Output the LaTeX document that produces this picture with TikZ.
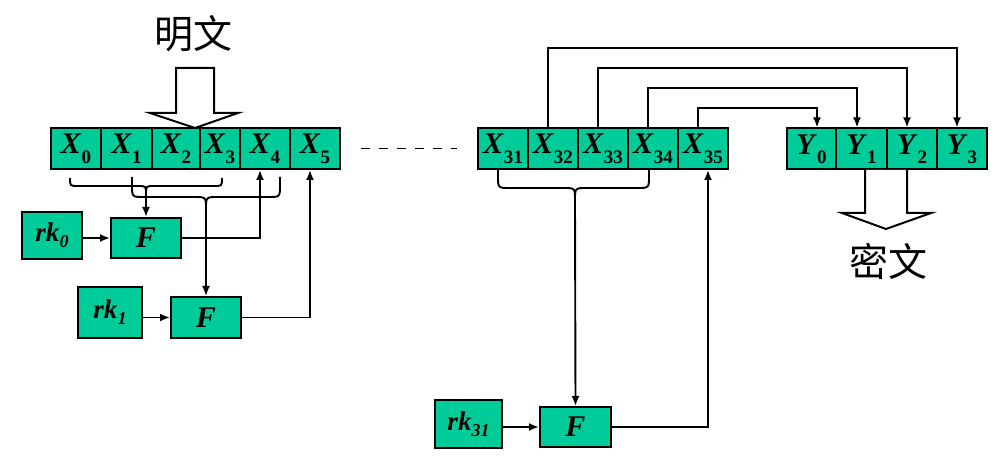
\documentclass[tikz,border=0pt]{standalone}
\usepackage{fontspec}
\setmainfont{Liberation Serif}
\newfontfamily\cjk{Noto Sans CJK SC}
\usetikzlibrary{arrows.meta,calc}
\definecolor{tealg}{RGB}{0,204,153}
\newcommand{\Xsub}[2]{\textbf{\textit{#1}}\raisebox{-9.5pt}{\smash{\fontsize{19}{19}\selectfont\textbf{#2}}}}
\newcommand{\rksub}[1]{\textbf{\textit{rk}}\raisebox{-6pt}{\smash{\fontsize{18}{18}\selectfont\textbf{\textit{#1}}}}}
\begin{document}
\begin{tikzpicture}[x=1pt,y=-1pt,
  cell/.style={draw, fill=tealg, line width=2pt, minimum height=41pt, inner sep=0pt, font=\fontsize{30}{30}\selectfont},
  kbox/.style={draw, fill=tealg, line width=2pt, inner sep=0pt, font=\fontsize{27}{27}\selectfont},
  fbox/.style={draw, fill=tealg, line width=2pt, inner sep=0pt, font=\fontsize{30}{30}\selectfont},
  arr/.style={-{Latex[length=10pt,width=8pt]}, line width=1.9pt},
  ln/.style={line width=1.9pt},
  hollow/.style={draw, fill=white, line width=2pt, line join=miter},
  cjklabel/.style={font=\cjk\fontsize{39}{39}\selectfont, inner sep=0pt}]
\useasboundingbox (0,0) rectangle (997,473);

% labels
\node[cjklabel] (pt) at (193,34) {明文};
\node[cjklabel] (ct) at (888,261) {密文};

% hollow input arrow
\draw[hollow] (176,68) -- (214,68) -- (214,113) -- (238,113) -- (195,128) -- (150,113) -- (176,113) -- cycle;

% left register
\node[cell, minimum width=50pt] (x0) at (76,148.5) {\Xsub{X}{0}};
\node[cell, minimum width=51pt] (x1) at (126.5,148.5) {\Xsub{X}{1}};
\node[cell, minimum width=48pt] (x2) at (176,148.5) {\Xsub{X}{2}};
\node[cell, minimum width=40pt] (x3) at (220,148.5) {\Xsub{X}{3}};
\node[cell, minimum width=50pt] (x4) at (265,148.5) {\Xsub{X}{4}};
\node[cell, minimum width=50pt] (x5) at (315,148.5) {\Xsub{X}{5}};

% right register
\node[cell, minimum width=50pt] (x31) at (503,148.5) {\Xsub{X}{31}};
\node[cell, minimum width=50pt] (x32) at (553,148.5) {\Xsub{X}{32}};
\node[cell, minimum width=50pt] (x33) at (603,148.5) {\Xsub{X}{33}};
\node[cell, minimum width=50pt] (x34) at (653,148.5) {\Xsub{X}{34}};
\node[cell, minimum width=50pt] (x35) at (703,148.5) {\Xsub{X}{35}};

% output register
\node[cell, minimum width=49pt] (y0) at (811.5,149) {\Xsub{Y}{0}};
\node[cell, minimum width=51pt] (y1) at (861.5,149) {\Xsub{Y}{1}};
\node[cell, minimum width=50pt] (y2) at (912,149) {\Xsub{Y}{2}};
\node[cell, minimum width=50pt] (y3) at (962,149) {\Xsub{Y}{3}};

% hollow output arrow
\draw[hollow] (865,170) -- (865,213) -- (842,213) -- (886,229) -- (931,213) -- (907,213) -- (907,170);

% round boxes
\node[kbox, minimum width=60pt, minimum height=47pt] (rk0) at (52,235.5) {\rksub{0}};
\node[fbox, minimum width=70pt, minimum height=40pt] (f0) at (146,238) {\textbf{\textit{F}}};
\node[kbox, minimum width=64pt, minimum height=51pt] (rk1) at (110,312.5) {\rksub{1}};
\node[fbox, minimum width=70pt, minimum height=41pt] (f1) at (206,317.5) {\textbf{\textit{F}}};
\node[kbox, minimum width=67pt, minimum height=48pt] (rk31) at (468.5,424) {\rksub{31}};
\node[fbox, minimum width=71pt, minimum height=40pt] (f31) at (575.5,427) {\textbf{\textit{F}}};

% dashes
\draw[ln, dash pattern=on 9pt off 9pt] ([xshift=20pt]x5.east) -- ([xshift=-20pt]x31.west);

% braces
\coordinate (b1) at (146,194);
\coordinate (b2) at (206,209);
\coordinate (b3) at (575,200);
\draw[ln] (70,178) .. controls (70,186) .. (78,186) -- (138,186) .. controls (146,186) .. (b1);
\draw[ln] (222,178) .. controls (222,186) .. (214,186) -- (154,186) .. controls (146,186) .. (b1);
\draw[ln] (132,177) -- (132,185) .. controls (132,197) .. (144,197) -- (194,197) .. controls (206,197) .. (b2);
\draw[ln] (280,177) -- (280,185) .. controls (280,197) .. (268,197) -- (218,197) .. controls (206,197) .. (b2);
\draw[ln] (498,170) -- (498,176) .. controls (498,188) .. (510,188) -- (563,188) .. controls (575,188) .. (b3);
\draw[ln] (649,170) -- (649,176) .. controls (649,188) .. (637,188) -- (587,188) .. controls (575,188) .. (b3);

% brace arrows into F
\draw[arr] (b1) -- (f0.north);
\draw[arr] (b2) -- (f1.north);
\draw[arr] (b3) -- (f31.north);

% key arrows
\draw[arr] (rk0.east |- f0.west) -- (f0.west);
\draw[arr] (rk1.east |- f1.west) -- (f1.west);
\draw[arr] (rk31.east |- f31.west) -- (f31.west);

% F outputs
\draw[arr] (f0.east) -| ([xshift=-5pt]x4.south);
\draw[arr] (f1.east) -| ([xshift=-5pt]x5.south);
\draw[arr] (f31.east) -| ([xshift=5pt]x35.south);

% top connectors to output register
\draw[arr] ([xshift=-5pt]x32.north) -- ++(0,-79) -| ([xshift=-5pt]y3.north);
\draw[arr] ([xshift=-5pt]x33.north) -- ++(0,-59) -| ([xshift=-5pt]y2.north);
\draw[arr] ([xshift=-5pt]x34.north) -- ++(0,-39) -| ([xshift=-4.5pt]y1.north);
\draw[arr] ([xshift=-5pt]x35.north) -- ++(0,-19) -| ([xshift=5.5pt]y0.north);
\end{tikzpicture}
\end{document}
